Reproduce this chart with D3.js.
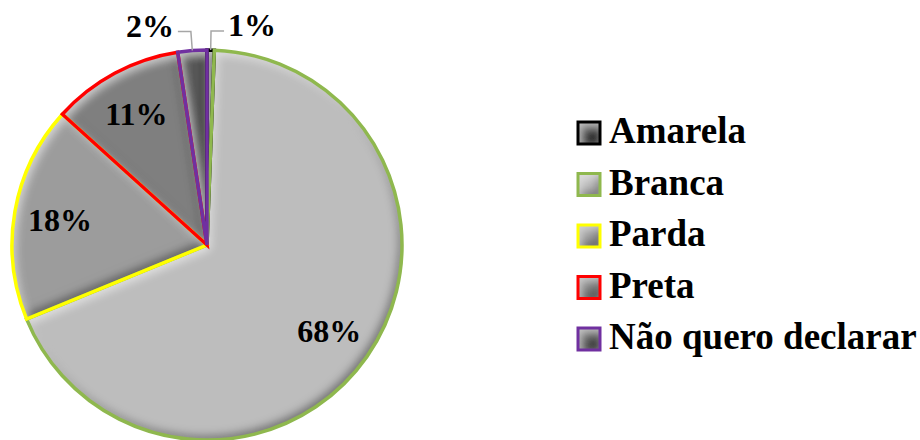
<!DOCTYPE html>
<html>
<head>
<meta charset="utf-8">
<script src="https://cdn.jsdelivr.net/npm/d3@7"></script>
<style>
  html, body { margin: 0; padding: 0; background: #ffffff; }
  svg { display: block; }
  svg text { font-family: "Liberation Serif", "DejaVu Serif", serif; font-weight: bold; }
</style>
</head>
<body>
<div id="chart"></div>
<script>

// Données (en %)
const categories = ["Amarela", "Branca", "Parda", "Preta", "Não quero declarar"];
const values = [0.6, 68.2, 17.9, 10.9, 2.4];
const fills = ["#3f3f3f", "#bdbdbd", "#9c9c9c", "#7f7f7f", "#585858"];
const borders = ["#000000", "#8fb84e", "#ffff00", "#ff0000", "#7030a0"];

const data = categories.map((c, i) => ({ name: c, value: values[i], fill: fills[i], border: borders[i] }));

//---------------------------------------------------------------------------------------

// Canevas

const width = 920;
const height = 440;
const cx = 207;
const cy = 245;
const radius = 195;

const svg = d3.select("#chart")
    .append("svg")
    .attr("width", width)
    .attr("height", height)
    .attr("viewBox", [0, 0, width, height]);

// filtre biseau (ombre en bas à droite, reflet en haut à gauche)
const defs = svg.append("defs");
const f = defs.append("filter")
    .attr("id", "bevel")
    .attr("x", "-10%").attr("y", "-10%")
    .attr("width", "120%").attr("height", "120%");

f.append("feGaussianBlur").attr("in", "SourceAlpha").attr("stdDeviation", 5).attr("result", "blur");
f.append("feOffset").attr("in", "blur").attr("dx", -3).attr("dy", -4).attr("result", "offDark");
f.append("feComposite").attr("in", "SourceAlpha").attr("in2", "offDark")
    .attr("operator", "arithmetic").attr("k2", 1).attr("k3", -1).attr("result", "darkMask");
f.append("feFlood").attr("flood-color", "#000").attr("flood-opacity", 0.8).attr("result", "darkCol");
f.append("feComposite").attr("in", "darkCol").attr("in2", "darkMask").attr("operator", "in").attr("result", "dark");
f.append("feOffset").attr("in", "blur").attr("dx", 3).attr("dy", 4).attr("result", "offLight");
f.append("feComposite").attr("in", "SourceAlpha").attr("in2", "offLight")
    .attr("operator", "arithmetic").attr("k2", 1).attr("k3", -1).attr("result", "lightMask");
f.append("feFlood").attr("flood-color", "#fff").attr("flood-opacity", 0.55).attr("result", "lightCol");
f.append("feComposite").attr("in", "lightCol").attr("in2", "lightMask").attr("operator", "in").attr("result", "light");
const merge = f.append("feMerge");
merge.append("feMergeNode").attr("in", "SourceGraphic");
merge.append("feMergeNode").attr("in", "dark");
merge.append("feMergeNode").attr("in", "light");

//---------------------------------------------------------------------------------------

// Camembert

const pie = d3.pie()
    .value(d => d.value)
    .sort(null);

const arcs = pie(data);

const arc = d3.arc()
    .innerRadius(0)
    .outerRadius(radius);

const labelArc = d3.arc()
    .innerRadius(radius * 0.765)
    .outerRadius(radius * 0.765);

const gPie = svg.append("g")
    .attr("transform", `translate(${cx}, ${cy})`);

// remplissage avec biseau
gPie.selectAll("path.fill")
    .data(arcs)
    .join("path")
    .attr("class", "fill")
    .attr("d", arc)
    .attr("fill", d => d.data.fill)
    .attr("filter", "url(#bevel)");

// bordures colorées
gPie.selectAll("path.border")
    .data(arcs)
    .join("path")
    .attr("class", "border")
    .attr("d", arc)
    .attr("fill", "none")
    .attr("stroke", d => d.data.border)
    .attr("stroke-width", 3.5)
    .attr("stroke-linejoin", "miter");

//---------------------------------------------------------------------------------------

// Étiquettes

const fmt = v => Math.round(v) + "%";
const isSmall = d => (d.endAngle - d.startAngle) < 0.2;

// étiquettes intérieures
gPie.selectAll("text.inner")
    .data(arcs.filter(d => !isSmall(d)))
    .join("text")
    .attr("class", "inner")
    .attr("x", d => labelArc.centroid(d)[0])
    .attr("y", d => labelArc.centroid(d)[1])
    .attr("text-anchor", "middle")
    .attr("dy", "0.35em")
    .attr("font-size", "32px")
    .attr("fill", "#000")
    .text(d => fmt(d.data.value));

// étiquettes extérieures avec lignes de rappel
const small = arcs.filter(isSmall);

const leader = d => {
    const a = (d.startAngle + d.endAngle) / 2;
    const side = Math.sin(a) < 0 ? -1 : 1;
    const p0 = [Math.sin(a) * radius, -Math.cos(a) * radius];
    const p1 = [Math.sin(a) * (radius + 19), -Math.cos(a) * (radius + 19)];
    const p2 = [p1[0] + side * 13, p1[1]];
    return { p0, p1, p2, side };
};

gPie.selectAll("polyline.leader")
    .data(small)
    .join("polyline")
    .attr("class", "leader")
    .attr("points", d => { const l = leader(d); return [l.p0, l.p1, l.p2].map(p => p.join(",")).join(" "); })
    .attr("fill", "none")
    .attr("stroke", "#a6a6a6")
    .attr("stroke-width", 1.5);

gPie.selectAll("text.outer")
    .data(small)
    .join("text")
    .attr("class", "outer")
    .attr("x", d => { const l = leader(d); return l.p2[0] + l.side * 4; })
    .attr("y", d => leader(d).p2[1] + 5)
    .attr("text-anchor", d => leader(d).side < 0 ? "end" : "start")
    .attr("font-size", "32px")
    .attr("fill", "#000")
    .text(d => fmt(d.data.value));

//---------------------------------------------------------------------------------------

// Légende

const legendX = 578;
const legendY = 133;
const legendStep = 51.5;
const box = 22;

const legend = svg.append("g")
    .attr("transform", `translate(${legendX}, ${legendY})`);

const item = legend.selectAll("g")
    .data(data)
    .join("g")
    .attr("transform", (d, i) => `translate(0, ${i * legendStep})`);

item.append("rect")
    .attr("x", 0)
    .attr("y", -box / 2)
    .attr("width", box)
    .attr("height", box)
    .attr("fill", d => d.fill)
    .attr("filter", "url(#bevel)");

item.append("rect")
    .attr("x", 0)
    .attr("y", -box / 2)
    .attr("width", box)
    .attr("height", box)
    .attr("fill", "none")
    .attr("stroke", d => d.border)
    .attr("stroke-width", 3);

item.append("text")
    .attr("x", 31)
    .attr("y", 10)
    .attr("font-size", "37px")
    .attr("fill", "#000")
    .text(d => d.name);

</script>
</body>
</html>
